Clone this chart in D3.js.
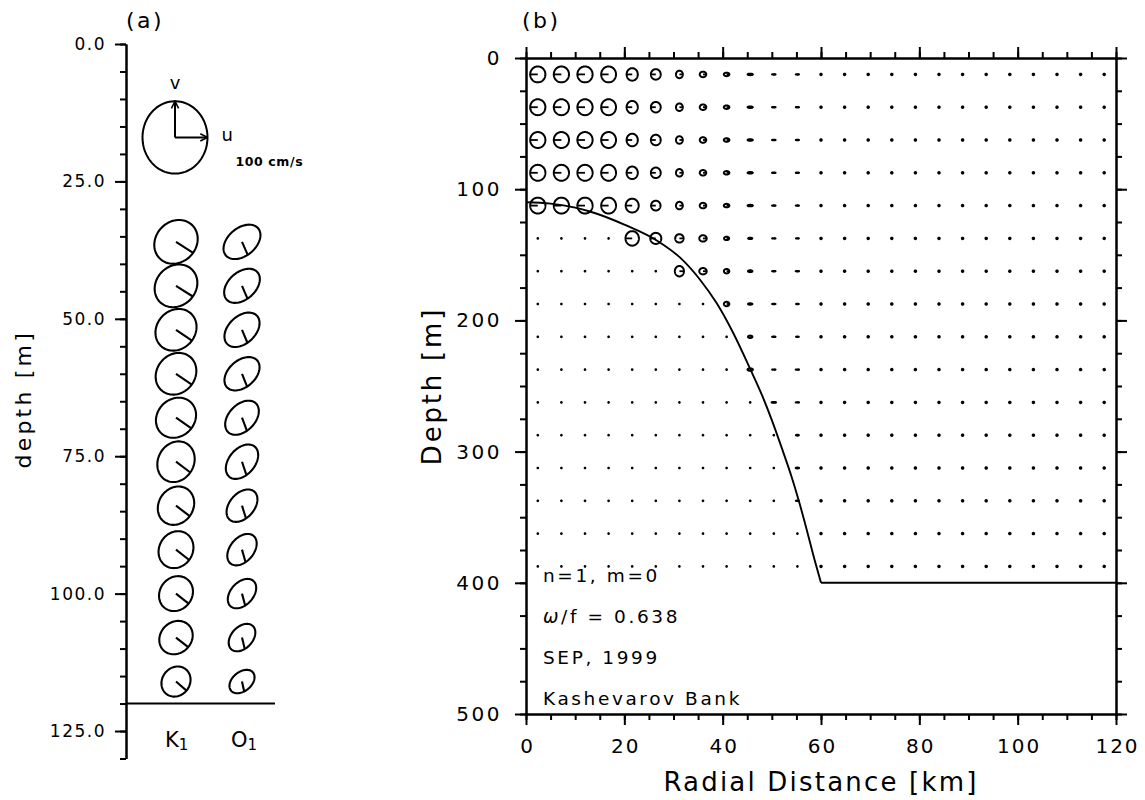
<!DOCTYPE html>
<html>
<head>
<meta charset="utf-8">
<script src="https://cdn.jsdelivr.net/npm/d3@7"></script>
<style>
body { margin: 0; background: #fff; }
svg { display: block; font-family: "DejaVu Sans", sans-serif; }
</style>
</head>
<body>
<script>
"use strict";

// ---- panel (a): K1 / O1 ellipses at the mooring (cm/s, deg) ----
var constituents = ["K1", "O1"];
var mooringDepths = [36, 44, 52, 60, 68, 76, 84, 92, 100, 108, 116];
var k1U = [66.8, 65.7, 63.2, 62.6, 61.7, 57.5, 56.0, 53.7, 52.2, 51.4, 44.8];
var k1V = [60.4, 59.0, 57.6, 57.6, 55.4, 56.2, 53.0, 51.0, 48.2, 46.1, 41.6];
var k1Gu = [38, 38, 39, 39, 40, 40, 41, 41, 42, 43, 44];
var k1Gv = [120, 120, 121, 121, 122, 122, 123, 124, 125, 125, 127];
var o1U = [56.8, 54.9, 54.0, 54.0, 51.8, 49.8, 47.5, 45.2, 43.7, 41.0, 38.6];
var o1V = [47.5, 47.1, 47.5, 46.1, 47.1, 47.5, 44.8, 43.4, 40.6, 37.9, 32.3];
var o1Gu = [72, 72, 72, 73, 73, 74, 75, 76, 77, 78, 80];
var o1Gv = [139, 139, 139, 140, 140, 141, 142, 143, 144, 146, 148];
var bottomDepthA = 120;
var refSpeed = 100, refDepth = 17;
var depthTicksA = [0, 25, 50, 75, 100, 125];

// ---- panel (b): model ellipses on the radial section ----
var radialKm = [2.4, 7.2, 12, 16.8, 21.6, 26.4, 31.2, 36, 40.8, 45.6, 50.4, 55.2, 60,
  64.8, 69.6, 74.4, 79.2, 84, 88.8, 93.6, 98.4, 103.2, 108, 112.8, 117.6];
var gridDepths = [12.5, 37.5, 62.5, 87.5, 112.5, 137.5, 162.5, 187.5, 212.5, 237.5,
  262.5, 287.5, 312.5, 337.5, 362.5, 387.5];
var uAmpB = [
  [23.4,23.4,23.4,22.8,17.2,15.1,10.5,10,8.5,8,5.4,4.9,2.3,2.3,2.3,2.3,2.3,2.3,2.3,2.3,2.3,2.3,2.3,2.3,2.3],
  [23.4,23.4,23.4,22.8,17.2,15.1,10.5,10,8.5,8,5.4,4.9,2.3,2.3,2.3,2.3,2.3,2.3,2.3,2.3,2.3,2.3,2.3,2.3,2.3],
  [23.4,23.4,23.4,22.8,17.2,15.1,10.5,10,8.5,8,5.4,4.9,2.3,2.3,2.3,2.3,2.3,2.3,2.3,2.3,2.3,2.3,2.3,2.3,2.3],
  [23.4,23.4,23.4,22.8,17.2,15.1,10.5,10,8.5,8,5.4,4.9,2.3,2.3,2.3,2.3,2.3,2.3,2.3,2.3,2.3,2.3,2.3,2.3,2.3],
  [23.4,23.4,23.4,22.8,20,14.5,10.5,10,8.5,8,5.4,4.9,2.3,2.3,2.3,2.3,2.3,2.3,2.3,2.3,2.3,2.3,2.3,2.3,2.3],
  [1,1,1,1,20.6,17,12.9,11.4,7.8,6.3,5.2,4.5,2.3,2.3,2.3,2.3,2.3,2.3,2.3,2.3,2.3,2.3,2.3,2.3,2.3],
  [1,1,1,1,1,1,14,11.4,8.3,6.8,5.2,5.2,2.3,2.3,2.3,2.3,2.3,2.3,2.3,2.3,2.3,2.3,2.3,2.3,2.3],
  [1,1,1,1,1,1,1,1,8.3,6.8,5.2,4.2,2.3,2.3,2.3,2.3,2.3,2.3,2.3,2.3,2.3,2.3,2.3,2.3,2.3],
  [1,1,1,1,1,1,1,1,1,6.8,5.2,4.2,2.3,2.3,2.3,2.3,2.3,2.3,2.3,2.3,2.3,2.3,2.3,2.3,2.3],
  [1,1,1,1,1,1,1,1,1,8.3,5.2,5.2,2.3,2.3,2.3,2.3,2.3,2.3,2.3,2.3,2.3,2.3,2.3,2.3,2.3],
  [1,1,1,1,1,1,1,1,1,1,6.8,5.2,2.3,2.3,2.3,2.3,2.3,2.3,2.3,2.3,2.3,2.3,2.3,2.3,2.3],
  [1,1,1,1,1,1,1,1,1,1,1,4.5,2.3,2.3,2.3,2.3,2.3,2.3,2.3,2.3,2.3,2.3,2.3,2.3,2.3],
  [1,1,1,1,1,1,1,1,1,1,1,5.2,2.3,2.3,2.3,2.3,2.3,2.3,2.3,2.3,2.3,2.3,2.3,2.3,2.3],
  [1,1,1,1,1,1,1,1,1,1,1,4.5,2.3,2.3,2.3,2.3,2.3,2.3,2.3,2.3,2.3,2.3,2.3,2.3,2.3],
  [1,1,1,1,1,1,1,1,1,1,1,1,2.3,2.3,2.3,2.3,2.3,2.3,2.3,2.3,2.3,2.3,2.3,2.3,2.3],
  [1,1,1,1,1,1,1,1,1,1,1,1,2.3,2.3,2.3,2.3,2.3,2.3,2.3,2.3,2.3,2.3,2.3,2.3,2.3]
];
var vAmpB = [
  [22,22,22,22,17.3,14.5,10.4,7.6,4.8,2.1,0.7,0.7,2.1,2.1,2.1,2.1,2.1,2.1,2.1,2.1,2.1,2.1,2.1,2.1,2.1],
  [22,22,22,22,17.3,14.5,10.4,7.6,4.8,2.1,0.7,0.7,2.1,2.1,2.1,2.1,2.1,2.1,2.1,2.1,2.1,2.1,2.1,2.1,2.1],
  [22,22,22,22,17.3,14.5,10.4,7.6,4.8,2.1,0.7,0.7,2.1,2.1,2.1,2.1,2.1,2.1,2.1,2.1,2.1,2.1,2.1,2.1,2.1],
  [22,22,22,22,17.3,14.5,10.4,7.6,4.8,2.1,0.7,0.7,2.1,2.1,2.1,2.1,2.1,2.1,2.1,2.1,2.1,2.1,2.1,2.1,2.1],
  [22,22,22,22,19,13.5,10.4,7.6,4.8,2.1,0.7,0.7,2.1,2.1,2.1,2.1,2.1,2.1,2.1,2.1,2.1,2.1,2.1,2.1,2.1],
  [1,1,1,1,20,15.3,11.6,8.8,4.7,1.9,0.6,0.6,2.1,2.1,2.1,2.1,2.1,2.1,2.1,2.1,2.1,2.1,2.1,2.1,2.1],
  [1,1,1,1,1,1,14.4,8.8,6.1,2.6,0.6,0.6,2.1,2.1,2.1,2.1,2.1,2.1,2.1,2.1,2.1,2.1,2.1,2.1,2.1],
  [1,1,1,1,1,1,1,1,6.1,1.9,0.6,0.6,2.1,2.1,2.1,2.1,2.1,2.1,2.1,2.1,2.1,2.1,2.1,2.1,2.1],
  [1,1,1,1,1,1,1,1,1,3.3,0.6,0.6,2.1,2.1,2.1,2.1,2.1,2.1,2.1,2.1,2.1,2.1,2.1,2.1,2.1],
  [1,1,1,1,1,1,1,1,1,3.3,0.6,0.6,2.1,2.1,2.1,2.1,2.1,2.1,2.1,2.1,2.1,2.1,2.1,2.1,2.1],
  [1,1,1,1,1,1,1,1,1,1,1.2,0.6,2.1,2.1,2.1,2.1,2.1,2.1,2.1,2.1,2.1,2.1,2.1,2.1,2.1],
  [1,1,1,1,1,1,1,1,1,1,1,1.2,2.1,2.1,2.1,2.1,2.1,2.1,2.1,2.1,2.1,2.1,2.1,2.1,2.1],
  [1,1,1,1,1,1,1,1,1,1,1,1.2,2.1,2.1,2.1,2.1,2.1,2.1,2.1,2.1,2.1,2.1,2.1,2.1,2.1],
  [1,1,1,1,1,1,1,1,1,1,1,0.6,2.1,2.1,2.1,2.1,2.1,2.1,2.1,2.1,2.1,2.1,2.1,2.1,2.1],
  [1,1,1,1,1,1,1,1,1,1,1,1,2.1,2.1,2.1,2.1,2.1,2.1,2.1,2.1,2.1,2.1,2.1,2.1,2.1],
  [1,1,1,1,1,1,1,1,1,1,1,1,2.1,2.1,2.1,2.1,2.1,2.1,2.1,2.1,2.1,2.1,2.1,2.1,2.1]
];
var uPhaseB = [180,180,180,180,180,180,0,0,0,0,0,0,0,0,0,0,0,0,0,0,0,0,0,0,0];
var vPhaseB = [90,90,90,90,90,90,90,90,90,90,90,90,90,90,90,90,90,90,90,90,90,90,90,90,90];
var topoKm = [0, 5, 10, 13, 20, 27, 31.3, 35.4, 38.8, 42.2, 45.6, 48, 50, 52, 54, 55.6, 57.2, 58.8, 60];
var topoDepth = [110, 111, 114, 117, 127, 140, 152, 169, 187, 210, 237, 257, 276, 297, 319, 339, 361, 384, 400];
var flatKm = [60, 120], flatDepth = [400, 400];
var kmTicks = [0, 20, 40, 60, 80, 100, 120];
var depthTicksB = [0, 100, 200, 300, 400, 500];
var infoLines = ["n=1, m=0", "\u03c9/f = 0.638", "SEP, 1999", "Kashevarov Bank"];

var W = 1145, H = 800;
var svg = d3.select("body").append("svg").attr("width", W).attr("height", H);

// velocity -> pixel offsets (shared by both panels)
var velX = d3.scaleLinear().domain([0, 100]).range([0, 32.5]);
var velY = d3.scaleLinear().domain([0, 100]).range([0, 36.2]);
var tSteps = d3.range(0, 361, 4);
var rad = Math.PI / 180;

function ellipsePath(cx, cy, U, gu, V, gv) {
  return d3.line()(tSteps.map(function (t) {
    return [cx + velX(U * Math.cos((t - gu) * rad)), cy - velY(V * Math.cos((t - gv) * rad))];
  })) + "Z";
}
function phaseEnd(cx, cy, U, gu, V, gv) {
  return [cx + velX(U * Math.cos(gu * rad)), cy - velY(V * Math.cos(gv * rad))];
}

function styleAxis(g, size, spacing) {
  g.selectAll("path, line").attr("stroke", "#000").attr("stroke-width", 2);
  g.selectAll("text").attr("font-family", "DejaVu Sans, sans-serif").attr("font-size", size)
    .attr("fill", "#000").style("letter-spacing", spacing + "px");
}
function drawAxis(parent, axisFn, scale, major, minor, majorLen, minorLen, fmt, pad, fsize, spacing) {
  var gMinor = parent.append("g").call(axisFn(scale).tickValues(minor).tickSize(minorLen).tickSizeOuter(0).tickFormat(""));
  styleAxis(gMinor, fsize, spacing);
  var gMajor = parent.append("g").call(axisFn(scale).tickValues(major).tickSize(majorLen).tickSizeOuter(0).tickPadding(pad).tickFormat(fmt));
  styleAxis(gMajor, fsize, spacing);
  return gMajor;
}

// ================= panel (a) =================
var depthA = d3.scaleLinear().domain([0, 130]).range([44, 758.5]);
var xA = d3.scalePoint().domain(constituents).range([176, 242]);
var axisXA = 126;

var gA = svg.append("g");
drawAxis(gA.append("g").attr("transform", "translate(" + axisXA + ",0)"), d3.axisLeft, depthA,
  depthTicksA, d3.range(0, 131, 5), 11, 6, d3.format(".1f"), 9, 17, 1.5);

gA.append("line").attr("x1", axisXA).attr("x2", 275)
  .attr("y1", depthA(bottomDepthA)).attr("y2", depthA(bottomDepthA))
  .attr("stroke", "#000").attr("stroke-width", 2);

var ellA = [];
mooringDepths.forEach(function (d, i) {
  ellA.push({ c: "K1", depth: d, U: k1U[i], V: k1V[i], gu: k1Gu[i], gv: k1Gv[i] });
  ellA.push({ c: "O1", depth: d, U: o1U[i], V: o1V[i], gu: o1Gu[i], gv: o1Gv[i] });
});
var eA = gA.selectAll("g.ell").data(ellA).enter().append("g").attr("class", "ell");
eA.append("path").attr("d", function (d) {
  return ellipsePath(xA(d.c), depthA(d.depth), d.U, d.gu, d.V, d.gv);
}).attr("fill", "none").attr("stroke", "#000").attr("stroke-width", 2.1);
eA.append("line")
  .attr("x1", function (d) { return xA(d.c); })
  .attr("y1", function (d) { return depthA(d.depth); })
  .attr("x2", function (d) { return phaseEnd(xA(d.c), depthA(d.depth), d.U, d.gu, d.V, d.gv)[0]; })
  .attr("y2", function (d) { return phaseEnd(xA(d.c), depthA(d.depth), d.U, d.gu, d.V, d.gv)[1]; })
  .attr("stroke", "#000").attr("stroke-width", 2.1);

// reference ellipse with u / v arrows
svg.append("defs").append("marker").attr("id", "arr").attr("viewBox", "0 0 10 10")
  .attr("refX", 9).attr("refY", 5).attr("markerWidth", 9).attr("markerHeight", 9)
  .attr("markerUnits", "userSpaceOnUse").attr("orient", "auto")
  .append("path").attr("d", "M1,1 L9,5 L1,9").attr("fill", "none").attr("stroke", "#000").attr("stroke-width", 1.8);
var rcx = xA("K1") - 1, rcy = depthA(refDepth);
gA.append("path").attr("d", ellipsePath(rcx, rcy, refSpeed, 0, refSpeed, 90))
  .attr("fill", "none").attr("stroke", "#000").attr("stroke-width", 2);
gA.append("line").attr("x1", rcx).attr("y1", rcy).attr("x2", rcx).attr("y2", rcy - velY(refSpeed))
  .attr("stroke", "#000").attr("stroke-width", 2).attr("marker-end", "url(#arr)");
gA.append("line").attr("x1", rcx).attr("y1", rcy).attr("x2", rcx + velX(refSpeed)).attr("y2", rcy)
  .attr("stroke", "#000").attr("stroke-width", 2).attr("marker-end", "url(#arr)");
gA.append("text").attr("x", rcx).attr("y", rcy - velY(refSpeed) - 12).attr("text-anchor", "middle")
  .attr("font-size", 18).text("v");
gA.append("text").attr("x", rcx + velX(refSpeed) + 14).attr("y", rcy + 4)
  .attr("font-size", 18).text("u");
gA.append("text").attr("x", rcx + velX(refSpeed) + 28).attr("y", rcy + 29)
  .attr("font-size", 12.5).attr("font-weight", "bold").style("letter-spacing", "0.6px")
  .text(refSpeed + " cm/s");

// constituent labels
var lab = gA.selectAll("text.cname").data(constituents).enter().append("text").attr("class", "cname")
  .attr("x", function (d) { return xA(d) - 11; }).attr("y", 747).attr("font-size", 21);
lab.append("tspan").text(function (d) { return d.charAt(0); });
lab.append("tspan").attr("font-size", 15).attr("dy", 3).text(function (d) { return d.slice(1); });

gA.append("text").attr("transform", "translate(31," + ((depthA(0) + depthA(130)) / 2 - 2) + ") rotate(-90)")
  .attr("text-anchor", "middle").attr("font-size", 22).style("letter-spacing", "3.2px").text("depth [m]");
svg.append("text").attr("x", 126).attr("y", 28).attr("font-size", 22).style("letter-spacing", "2.5px").text("(a)");

// ================= panel (b) =================
var xB = d3.scaleLinear().domain([0, 120]).range([526, 1116]);
var yB = d3.scaleLinear().domain([0, 500]).range([58, 714]);
var gB = svg.append("g");

var cells = [];
gridDepths.forEach(function (dep, j) {
  radialKm.forEach(function (km, i) {
    cells.push({ km: km, dep: dep, U: uAmpB[j][i], V: vAmpB[j][i], gu: uPhaseB[i], gv: vPhaseB[i] });
  });
});
var eB = gB.selectAll("g.cell").data(cells).enter().append("g").attr("class", "cell");
eB.append("path").attr("d", function (d) {
  return ellipsePath(xB(d.km), yB(d.dep), d.U, d.gu, d.V, d.gv);
}).attr("fill", "none").attr("stroke", "#000").attr("stroke-width", 2);
eB.append("line")
  .attr("x1", function (d) { return xB(d.km); })
  .attr("y1", function (d) { return yB(d.dep); })
  .attr("x2", function (d) { return phaseEnd(xB(d.km), yB(d.dep), d.U, d.gu, d.V, d.gv)[0]; })
  .attr("y2", function (d) { return phaseEnd(xB(d.km), yB(d.dep), d.U, d.gu, d.V, d.gv)[1]; })
  .attr("stroke", "#000").attr("stroke-width", 1.8);

// topography
var topoLine = d3.line().x(function (d) { return xB(d[0]); }).y(function (d) { return yB(d[1]); });
gB.append("path").attr("d", topoLine.curve(d3.curveMonotoneX)(d3.zip(topoKm, topoDepth)))
  .attr("fill", "none").attr("stroke", "#000").attr("stroke-width", 1.9);
gB.append("path").attr("d", topoLine.curve(d3.curveLinear)(d3.zip(flatKm, flatDepth)))
  .attr("fill", "none").attr("stroke", "#000").attr("stroke-width", 1.9);

// frame axes
var minorKm = d3.range(0, 121, 5), minorDep = d3.range(0, 501, 25);
var bx = drawAxis(gB.append("g").attr("transform", "translate(0," + yB(500) + ")"), d3.axisBottom, xB,
  kmTicks, minorKm, 11, 6, d3.format("d"), 14, 20, 2);
bx.selectAll("text").attr("dx", 1);
drawAxis(gB.append("g").attr("transform", "translate(0," + yB(0) + ")"), d3.axisTop, xB,
  kmTicks, minorKm, 11, 6, "", 3, 20, 0);
drawAxis(gB.append("g").attr("transform", "translate(" + xB(0) + ",0)"), d3.axisLeft, yB,
  depthTicksB, minorDep, 11, 6, d3.format("d"), 13, 20, 2.5);
drawAxis(gB.append("g").attr("transform", "translate(" + xB(120) + ",0)"), d3.axisRight, yB,
  depthTicksB, minorDep, 11, 6, "", 3, 20, 0);

gB.append("text").attr("x", (xB(0) + xB(120)) / 2).attr("y", 791).attr("text-anchor", "middle")
  .attr("font-size", 26).style("letter-spacing", "2.2px").text("Radial Distance [km]");
gB.append("text").attr("transform", "translate(441," + ((yB(0) + yB(500)) / 2) + ") rotate(-90)")
  .attr("text-anchor", "middle").attr("font-size", 26).style("letter-spacing", "2.8px").text("Depth [m]");

var info = gB.selectAll("text.info").data(infoLines).enter().append("text").attr("class", "info")
  .attr("x", 543).attr("y", function (d, i) { return 582 + i * 41; })
  .attr("font-size", 18.5).style("letter-spacing", "2.6px");
info.each(function (d) {
  var t = d3.select(this);
  if (d.charAt(0) === "\u03c9") {
    t.append("tspan").attr("font-style", "italic").text(d.charAt(0));
    t.append("tspan").text(d.slice(1));
  } else {
    t.text(d);
  }
});
svg.append("text").attr("x", 522).attr("y", 28).attr("font-size", 22).style("letter-spacing", "2.5px").text("(b)");
</script>
</body>
</html>
